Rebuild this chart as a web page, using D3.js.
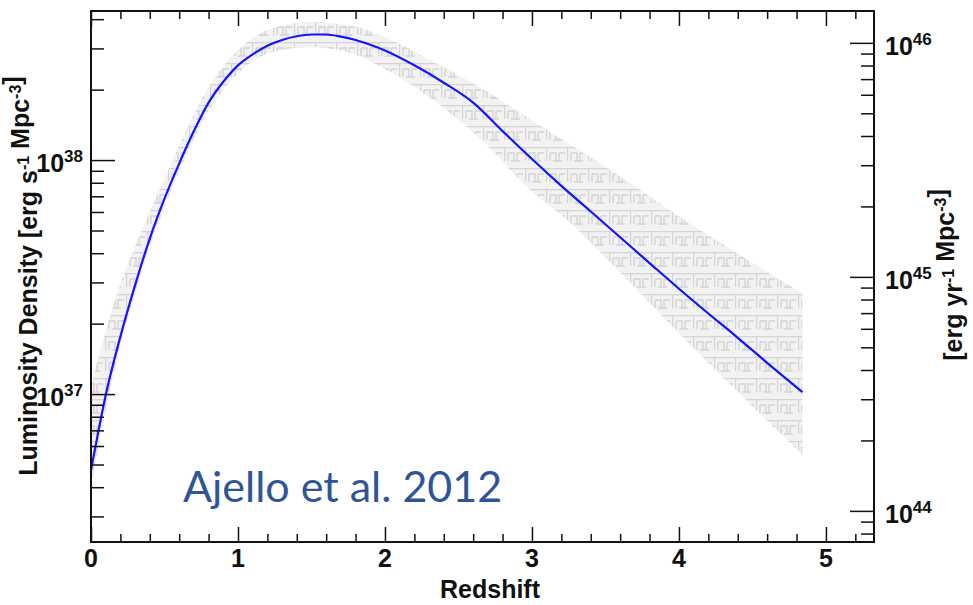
<!DOCTYPE html>
<html>
<head>
<meta charset="utf-8">
<script src="https://cdn.jsdelivr.net/npm/d3@7"></script>
<style>
  html, body { margin: 0; padding: 0; background: #fff; }
  svg { display: block; }
  .tick line { stroke: #111; stroke-width: 1.5; }
</style>
</head>
<body>
<svg id="chart" width="973" height="605"></svg>
<script>
// Gamma-ray luminosity density of blazars versus redshift (LDDE model)
// central curve, in erg s^-1 Mpc^-3
const redshift = [0, 0.05, 0.1, 0.2, 0.3, 0.4, 0.5, 0.6, 0.7, 0.8, 0.9, 1.0, 1.1, 1.2, 1.3, 1.4,
                  1.5, 1.6, 1.7, 1.8, 1.9, 2.0, 2.2, 2.4, 2.6, 2.8, 3.0, 3.2, 3.4, 3.6, 3.8,
                  4.0, 4.2, 4.4, 4.6, 4.84];
const lumDensity = [4.73e36, 6.92e36, 9.89e36, 1.76e37, 2.92e37, 4.62e37, 6.84e37, 9.66e37,
                    1.33e38, 1.76e38, 2.16e38, 2.54e38, 2.83e38, 3.08e38, 3.26e38, 3.38e38,
                    3.44e38, 3.44e38, 3.37e38, 3.26e38, 3.11e38, 2.94e38, 2.54e38, 2.14e38,
                    1.76e38, 1.33e38, 1.01e38, 7.76e37, 6.03e37, 4.68e37, 3.63e37,
                    2.82e37, 2.21e37, 1.74e37, 1.36e37, 1.02e37];

// uncertainty band
const bandRedshift = [0, 0.1, 0.2, 0.3, 0.4, 0.5, 0.6, 0.8, 1.0, 1.2, 1.5, 1.8, 2.0, 2.3, 2.65,
                      3.0, 3.2, 3.6, 4.0, 4.4, 4.84];
const bandUpper = [1.07e37, 1.86e37, 2.95e37, 4.27e37, 6.03e37, 8.32e37, 1.15e38, 2.04e38,
                   2.95e38, 3.59e38, 3.89e38, 3.72e38, 3.35e38, 2.69e38, 2.04e38,
                   1.48e38, 1.23e38, 8.51e37, 5.75e37, 3.98e37, 2.69e37];
const bandLower = [4.03e36, 8.51e36, 1.62e37, 2.69e37, 4.27e37, 6.31e37, 8.91e37, 1.62e38,
                   2.34e38, 2.85e38, 3.04e38, 2.82e38, 2.45e38, 1.86e38, 1.23e38,
                   7.33e37, 5.82e37, 3.31e37, 1.82e37, 1.02e37, 5.50e36];

// axis ticks
const xMajorTicks = [0, 1, 2, 3, 4, 5];
const xMinorTicks = [0.2, 0.4, 0.6, 0.8, 1.2, 1.4, 1.6, 1.8, 2.2, 2.4, 2.6, 2.8,
                     3.2, 3.4, 3.6, 3.8, 4.2, 4.4, 4.6, 4.8, 5.2];
const xTickLabels = ["0", "1", "2", "3", "4", "5"];
const leftMajorExp = [37, 38];
const rightMajorExp = [44, 45, 46];

const SEC_PER_YEAR = 3.156e7;
const xDomain = [0, 5.327];
const yDomain = [2.333e36, 4.335e38];

const svg = d3.select("#chart");
const margin = { top: 11, right: 99, bottom: 63, left: 91 };
const W = 973, H = 605;
const x0 = margin.left, x1 = W - margin.right, y0 = H - margin.bottom, y1 = margin.top;

const x = d3.scaleLinear().domain(xDomain).range([x0, x1]);
const yL = d3.scaleLog().domain(yDomain).range([y0, y1]);
const yR = d3.scaleLog().domain(yDomain.map(v => v * SEC_PER_YEAR)).range([y0, y1]);

// hatch fill for the band
const defs = svg.append("defs");
const pat = defs.append("pattern")
  .attr("id", "keyHatch").attr("patternUnits", "userSpaceOnUse")
  .attr("width", 21).attr("height", 21);
pat.append("rect").attr("width", 21).attr("height", 21).attr("fill", "#f2f2f2");
pat.append("path")
  .attr("d", "M0,0.5H21 M0.5,0V14 M4,6H10V14 M4,6V14 M13,6H19 M13,6V14 M7,14H16")
  .attr("fill", "none").attr("stroke", "#d4d4d4").attr("stroke-width", 1.4);

defs.append("clipPath").attr("id", "plotClip")
  .append("rect").attr("x", x0).attr("y", y1).attr("width", x1 - x0).attr("height", y0 - y1);

const plot = svg.append("g").attr("clip-path", "url(#plotClip)");

const bandData = bandRedshift.map((z, i) => ({ z, lo: bandLower[i], hi: bandUpper[i] }));
const area = d3.area()
  .x(d => x(d.z)).y0(d => yL(d.lo)).y1(d => yL(d.hi))
  .curve(d3.curveMonotoneX);
plot.append("path").datum(bandData)
  .attr("d", area).attr("fill", "url(#keyHatch)").attr("stroke", "none");

const lineData = redshift.map((z, i) => ({ z, v: lumDensity[i] }));
const line = d3.line().x(d => x(d.z)).y(d => yL(d.v)).curve(d3.curveMonotoneX);
plot.append("path").datum(lineData)
  .attr("d", line).attr("fill", "none").attr("stroke", "#1414ff").attr("stroke-width", 2.2);

// axes
function logMinors(scale) {
  const [a, b] = scale.domain();
  const out = [];
  for (let e = Math.floor(Math.log10(a)); e <= Math.ceil(Math.log10(b)); e++) {
    for (let m = 2; m <= 9; m++) {
      const v = m * Math.pow(10, e);
      if (v >= a && v <= b) out.push(v);
    }
  }
  return out;
}
function drawAxis(axis, tr) {
  const g = svg.append("g").attr("transform", tr).call(axis);
  g.select(".domain").remove();
  g.selectAll("text").remove();
  return g;
}
drawAxis(d3.axisBottom(x).tickValues(xMajorTicks).tickSize(-15).tickFormat(""), `translate(0,${y0})`);
drawAxis(d3.axisBottom(x).tickValues(xMinorTicks).tickSize(-8).tickFormat(""), `translate(0,${y0})`);
drawAxis(d3.axisTop(x).tickValues(xMajorTicks).tickSize(-15).tickFormat(""), `translate(0,${y1})`);
drawAxis(d3.axisTop(x).tickValues(xMinorTicks).tickSize(-8).tickFormat(""), `translate(0,${y1})`);
drawAxis(d3.axisLeft(yL).tickValues(leftMajorExp.map(e => Math.pow(10, e))).tickSize(-24).tickFormat(""), `translate(${x0},0)`);
drawAxis(d3.axisLeft(yL).tickValues(logMinors(yL)).tickSize(-13).tickFormat(""), `translate(${x0},0)`);
drawAxis(d3.axisRight(yR).tickValues(rightMajorExp.map(e => Math.pow(10, e))).tickSize(-24).tickFormat(""), `translate(${x1},0)`);
drawAxis(d3.axisRight(yR).tickValues(logMinors(yR)).tickSize(-13).tickFormat(""), `translate(${x1},0)`);

svg.append("rect").attr("x", x0).attr("y", y1).attr("width", x1 - x0).attr("height", y0 - y1)
  .attr("fill", "none").attr("stroke", "#111").attr("stroke-width", 2);

const FONT = "'Liberation Sans', Arial, Helvetica, sans-serif";
const FS = 25;

// x tick labels
svg.append("g").selectAll("text").data(xMajorTicks).join("text")
  .attr("x", d => x(d)).attr("y", y0 + 25)
  .attr("text-anchor", "middle")
  .attr("font-family", FONT).attr("font-weight", "bold").attr("font-size", FS).attr("fill", "#111")
  .text((d, i) => xTickLabels[i]);

// power-of-ten labels
function powLabel(g, px, py, exp, anchor) {
  const t = g.append("text").attr("x", px).attr("y", py + 12)
    .attr("text-anchor", anchor)
    .attr("font-family", FONT).attr("font-weight", "bold").attr("font-size", FS).attr("fill", "#111");
  t.append("tspan").text("10");
  t.append("tspan").attr("dy", -10).attr("font-size", 17).text(String(exp));
}
const yLab = svg.append("g");
leftMajorExp.forEach(e => powLabel(yLab, 83, yL(Math.pow(10, e)), e, "end"));
rightMajorExp.forEach(e => powLabel(yLab, 885, yR(Math.pow(10, e)), e, "start"));

// axis titles
svg.append("text").attr("x", 490).attr("y", 598).attr("text-anchor", "middle")
  .attr("font-family", FONT).attr("font-weight", "bold").attr("font-size", FS).attr("fill", "#111")
  .text("Redshift");

function unitTitle(tx, ty, parts) {
  const t = svg.append("text")
    .attr("transform", `translate(${tx},${ty}) rotate(-90)`)
    .attr("text-anchor", "middle")
    .attr("font-family", FONT).attr("font-weight", "bold").attr("font-size", FS).attr("fill", "#111");
  parts.forEach(p => {
    if (p.sup) {
      t.append("tspan").attr("dy", -8).attr("font-size", 16).text(p.sup);
      t.append("tspan").attr("dy", 8).text("");
    } else {
      t.append("tspan").text(p.text);
    }
  });
}
unitTitle(37, 276, [{ text: "Luminosity Density [erg s" }, { sup: "-1" }, { text: " Mpc" }, { sup: "-3" }, { text: "]" }]);
unitTitle(962, 275, [{ text: "[erg yr" }, { sup: "-1" }, { text: " Mpc" }, { sup: "-3" }, { text: "]" }]);

// reference annotation
svg.append("text").attr("x", 183).attr("y", 502)
  .attr("font-family", "Lato, 'Open Sans', sans-serif").attr("font-size", 43).attr("fill", "#2f5597")
  .text("Ajello et al. 2012");
</script>
</body>
</html>
